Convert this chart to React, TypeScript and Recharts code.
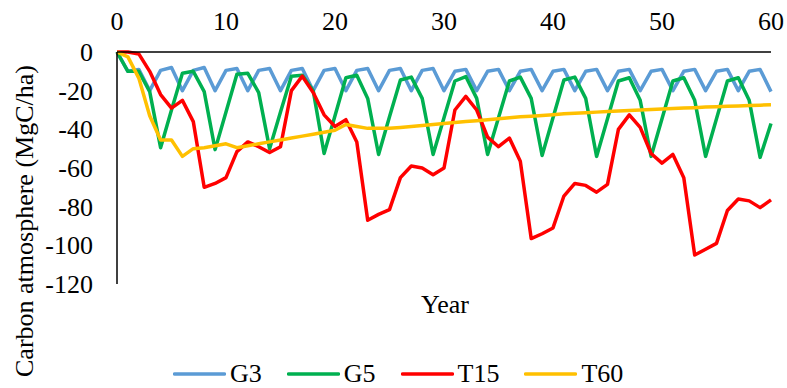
import { LineChart, Line, XAxis, YAxis, Legend } from 'recharts';

// years 0..60
const years = [
  0, 1, 2, 3, 4, 5, 6, 7, 8, 9, 10, 11, 12, 13, 14, 15, 16, 17, 18, 19, 20,
  21, 22, 23, 24, 25, 26, 27, 28, 29, 30, 31, 32, 33, 34, 35, 36, 37, 38, 39, 40,
  41, 42, 43, 44, 45, 46, 47, 48, 49, 50, 51, 52, 53, 54, 55, 56, 57, 58, 59, 60,
];

const g3 = [
  0, -10, -9,
  -20, -9.5, -8, -20, -9.5, -8, -20, -9.5, -8.5, -20, -9.5, -8.5,
  -20, -9.5, -8.5, -20, -9.5, -8.5, -20, -9.5, -8.5, -20, -9.5, -8.5,
  -20, -9.5, -8.5, -20, -10, -9, -20, -10, -9, -20, -10, -9,
  -20, -10, -9, -20, -10, -9, -20, -10, -9, -20, -10, -9,
  -20, -10, -9, -20, -10, -9, -20, -10, -9, -20.5,
];

const g5 = [
  0, -10, -10, -20.5, -49.5,
  -30, -11, -10, -20.5, -50.5,
  -31, -11.5, -11, -21, -50,
  -31, -12.5, -12, -20, -52.5,
  -33, -13.3, -12, -24, -53,
  -33.5, -14.5, -13, -24, -53,
  -34, -15, -12.7, -24, -53,
  -34, -15, -13, -24, -53.5,
  -34, -14.5, -13, -24, -54,
  -34.5, -15, -13.3, -25, -54,
  -34.5, -15, -13.3, -25, -54,
  -34.5, -15, -13.3, -25, -54.5,
  -37,
];

const t15 = [
  0, 0, -1, -10, -22, -29, -25, -36, -70, -68,
  -65, -51.5, -46.5, -49, -52, -49, -20, -12.5, -21, -32.5,
  -38.5, -35, -46.5, -87, -84, -81.5, -65, -59, -60, -63.5,
  -60, -30, -23, -30, -44, -49, -44.5, -56.5, -96.5, -94,
  -91, -74.5, -68, -69, -72.5, -68.5, -40, -32.5, -39, -52.5,
  -57.5, -53, -65, -105, -102, -99, -82, -76, -77, -80.5,
  -76.5,
];

const t60 = [
  0, -2.5, -13.5, -33, -45.5, -45.5, -54, -50, -49.5, -48.5,
  -47.5, -49.5, -48.5, -47.5, -46.5, -45.5, -44.5, -43.5, -42.5, -41.5,
  -40.5, -37.5, -38.5, -39.5, -39.5, -39.5, -39, -38.5, -38, -37.5,
  -37, -36.5, -36, -35.5, -35, -34.5, -34, -33.5, -33.2, -32.8,
  -32.4, -32, -31.7, -31.4, -31.1, -30.8, -30.5, -30.2, -30, -29.7,
  -29.5, -29.2, -29, -28.8, -28.5, -28.3, -28.1, -27.9, -27.7, -27.5,
  -27.3,
];

const xTicks = [0, 10, 20, 30, 40, 50, 60];
const yTicks = [-120, -100, -80, -60, -40, -20, 0];

const series = [
  { key: 'G3', color: '#5B9BD5' },
  { key: 'G5', color: '#00B050' },
  { key: 'T15', color: '#FF0000' },
  { key: 'T60', color: '#FFC000' },
];

const data = years.map((year, i) => ({
  year,
  G3: g3[i],
  G5: g5[i],
  T15: t15[i],
  T60: t60[i],
}));

const FONT = '"Liberation Serif", "Times New Roman", serif';

function TopTick(props: any) {
  const { x, y, payload } = props;
  return (
    <text x={x} y={y} textAnchor="middle" fill="#000" fontSize={26} fontFamily={FONT}>
      {payload.value}
    </text>
  );
}

function LeftTick(props: any) {
  const { x, y, payload } = props;
  return (
    <text x={x} y={y} dy={9} textAnchor="end" fill="#000" fontSize={26} fontFamily={FONT}>
      {payload.value}
    </text>
  );
}

function LegendRow() {
  return (
    <div style={{ display: 'flex', alignItems: 'center', fontFamily: FONT, fontSize: 26, color: '#000', lineHeight: '30px' }}>
      {series.map((s) => (
        <div key={s.key} style={{ display: 'flex', alignItems: 'center', marginRight: 25 }}>
          <svg width={53} height={6} style={{ display: 'block' }}>
            <line x1={1.5} y1={3} x2={51.5} y2={3} stroke={s.color} strokeWidth={3.5} strokeLinecap="round" />
          </svg>
          <span style={{ marginLeft: 4 }}>{s.key}</span>
        </div>
      ))}
    </div>
  );
}

export default function App() {
  return (
    <div style={{ width: 787, height: 388, background: '#fff', fontFamily: FONT }}>
      <style>{'body{margin:0}'}</style>
      <LineChart width={787} height={388} data={data} margin={{ top: 0, right: 16, left: 0, bottom: 104 }}>
        <XAxis
          dataKey="year"
          type="number"
          orientation="top"
          domain={[0, 60]}
          ticks={xTicks}
          interval={0}
          height={52}
          tickLine={false}
          tickSize={0}
          tickMargin={22}
          axisLine={{ stroke: '#000', strokeWidth: 1.5 }}
          tick={<TopTick />}
          label={() => (
            <text x={445} y={313} textAnchor="middle" fill="#000" fontSize={26} fontFamily={FONT}>
              Year
            </text>
          )}
        />
        <YAxis
          type="number"
          domain={[-120, 0]}
          ticks={yTicks}
          interval={0}
          width={117}
          tickLine={false}
          tickSize={0}
          tickMargin={24}
          axisLine={{ stroke: '#000', strokeWidth: 1.5 }}
          tick={<LeftTick />}
          label={() => (
            <text x={33} y={221} transform="rotate(-90 33 221)" textAnchor="middle" fill="#000" fontSize={26} fontFamily={FONT}>
              Carbon atmosphere (MgC/ha)
            </text>
          )}
        />
        {series.map((s) => (
          <Line
            key={s.key}
            type="linear"
            dataKey={s.key}
            stroke={s.color}
            strokeWidth={3.5}
            strokeLinejoin="round"
            dot={false}
            activeDot={false}
            isAnimationActive={false}
          />
        ))}
        <Legend
          layout="horizontal"
          verticalAlign="middle"
          content={() => <LegendRow />}
          wrapperStyle={{ left: 173, top: 359, width: 'auto' }}
        />
      </LineChart>
    </div>
  );
}
